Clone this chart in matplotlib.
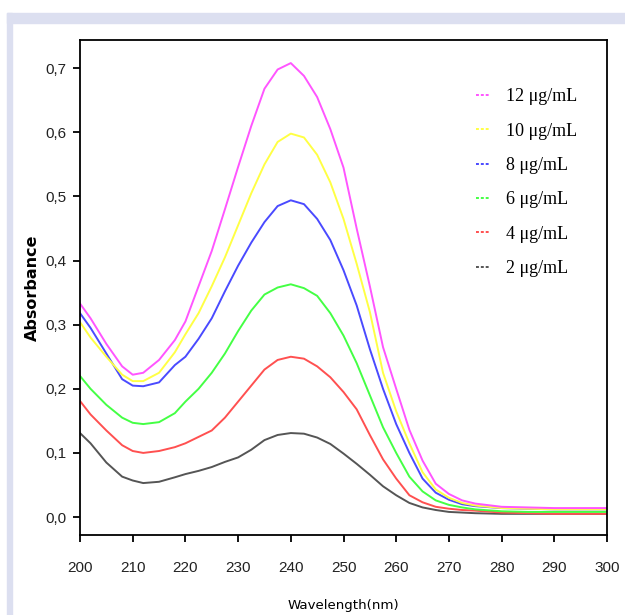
import matplotlib.pyplot as plt
from matplotlib.lines import Line2D
from matplotlib.patches import Rectangle
from matplotlib.ticker import FuncFormatter

plt.rcParams["font.family"] = ["Liberation Sans", "DejaVu Sans"]

# wavelength grid (nm)
wavelength = [200, 202, 205, 208, 210, 212, 215, 218, 220, 222.5, 225, 227.5,
              230, 232.5, 235, 237.5, 240, 242.5, 245, 247.5, 250, 252.5, 255,
              257.5, 260, 262.5, 265, 267.5, 270, 272.5, 275, 280, 285, 290,
              295, 300]

abs_12 = [0.333, 0.31, 0.27, 0.235, 0.222, 0.225, 0.245, 0.276, 0.305, 0.36,
          0.415, 0.48, 0.546, 0.61, 0.668, 0.698, 0.708, 0.688, 0.655, 0.605,
          0.545, 0.45, 0.36, 0.265, 0.2, 0.136, 0.088, 0.052, 0.036, 0.026,
          0.021, 0.016, 0.015, 0.014, 0.014, 0.014]
abs_10 = [0.304, 0.28, 0.25, 0.222, 0.212, 0.212, 0.225, 0.257, 0.285, 0.318,
          0.36, 0.405, 0.455, 0.505, 0.55, 0.585, 0.598, 0.592, 0.565, 0.522,
          0.465, 0.395, 0.32, 0.225, 0.165, 0.115, 0.07, 0.043, 0.03, 0.022,
          0.018, 0.014, 0.013, 0.012, 0.012, 0.012]
abs_8 = [0.318, 0.295, 0.255, 0.215, 0.205, 0.204, 0.21, 0.237, 0.25, 0.278,
         0.31, 0.352, 0.392, 0.428, 0.46, 0.485, 0.494, 0.488, 0.465, 0.432,
         0.385, 0.33, 0.262, 0.2, 0.145, 0.1, 0.06, 0.038, 0.027, 0.02,
         0.017, 0.014, 0.013, 0.012, 0.012, 0.012]
abs_6 = [0.22, 0.2, 0.175, 0.155, 0.147, 0.145, 0.148, 0.162, 0.18, 0.2,
         0.225, 0.255, 0.29, 0.322, 0.347, 0.358, 0.363, 0.357, 0.345, 0.318,
         0.283, 0.24, 0.19, 0.14, 0.1, 0.063, 0.04, 0.026, 0.019, 0.015,
         0.012, 0.009, 0.008, 0.008, 0.008, 0.008]
abs_4 = [0.181, 0.16, 0.135, 0.112, 0.103, 0.1, 0.103, 0.109, 0.115, 0.125,
         0.135, 0.155, 0.18, 0.205, 0.23, 0.245, 0.25, 0.247, 0.235, 0.218,
         0.195, 0.168, 0.128, 0.09, 0.06, 0.034, 0.023, 0.016, 0.013, 0.011,
         0.01, 0.007, 0.006, 0.005, 0.005, 0.005]
abs_2 = [0.131, 0.115, 0.085, 0.063, 0.057, 0.053, 0.055, 0.062, 0.067, 0.072,
         0.078, 0.086, 0.093, 0.105, 0.12, 0.128, 0.131, 0.13, 0.124, 0.114,
         0.099, 0.083, 0.066, 0.048, 0.034, 0.022, 0.015, 0.011, 0.008, 0.007,
         0.006, 0.005, 0.005, 0.005, 0.005, 0.005]

labels = ["12 \u03bcg/mL", "10 \u03bcg/mL", "8 \u03bcg/mL",
          "6 \u03bcg/mL", "4 \u03bcg/mL", "2 \u03bcg/mL"]
series = [abs_12, abs_10, abs_8, abs_6, abs_4, abs_2]
colors = ["#ff55ff", "#ffff44", "#4a4aff", "#44ff44", "#ff5050", "#555555"]

x_ticks = list(range(200, 301, 10))
y_ticks = [0.0, 0.1, 0.2, 0.3, 0.4, 0.5, 0.6, 0.7]

fig = plt.figure(figsize=(6.25, 6.15), dpi=100)
fig.patch.set_facecolor("white")

# lavender frame on top and left
band = "#dcdff0"
fig.patches.append(Rectangle((7 / 625, 0), 5 / 625, 1 - 13 / 615,
                             transform=fig.transFigure, color=band, zorder=0))
fig.patches.append(Rectangle((7 / 625, 1 - 23 / 615), 1, 10 / 615,
                             transform=fig.transFigure, color=band, zorder=0))

ax = fig.add_axes([80 / 625, 1 - 535 / 615, 527 / 625, 495 / 615])

# draw lowest first so the high curves sit on top in the tail
for ys, c in reversed(list(zip(series, colors))):
    ax.plot(wavelength, ys, color=c, lw=1.4)

ax.set_xlim(200, 300)
ax.set_ylim(-0.028, 0.744)
ax.set_xticks(x_ticks)
ax.set_yticks(y_ticks)
ax.yaxis.set_major_formatter(FuncFormatter(lambda v, p: f"{v:.1f}".replace(".", ",")))

ax.tick_params(direction="out", length=5, width=1.3, top=False, right=False,
               labelsize=11, labelcolor="#222222")
ax.tick_params(axis="y", pad=5)
ax.tick_params(axis="x", pad=14)
for s in ax.spines.values():
    s.set_linewidth(1.3)

ax.set_xlabel("Wavelength(nm)", fontfamily="DejaVu Sans", fontsize=9.6,
              labelpad=17)
ax.set_ylabel("Absorbance", fontfamily="DejaVu Sans", fontsize=11.5,
              fontweight="bold", labelpad=4)

handles = [Line2D([], [], color=c, lw=1.4, linestyle=(0, (1.5, 1)))
           for c in colors]
ax.legend(handles, labels, loc="upper left", bbox_to_anchor=(0.72, 0.935),
          frameon=False, handlelength=0.8, handletextpad=0.9,
          labelspacing=0.96, prop={"family": "Liberation Serif", "size": 13})

fig.savefig("out.png", dpi=100)
